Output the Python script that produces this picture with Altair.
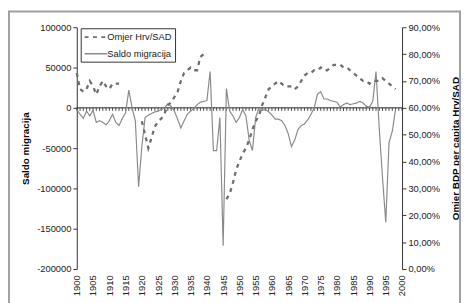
import altair as alt
import pandas as pd

# ---------------- data ----------------
years = list(range(1900, 1999))

saldo_migracija = [
    -2000, -8000, -13000, -4000, -10000, -3000, -18000, -16000, -18000, -21000,   # 1900-1909
    -16000, -8000, -18000, -22000, -13000, -6000, 22000, 0, -16000, -98000,      # 1910-1919
    -48000, -12000, -9000, -7000, -5000, -4000, -2000, 0, 5000, 2000,           # 1920-1929
    -4000, -14000, -25000, -16000, -8000, -4000, -1000, 4000, 7000, 8000,       # 1930-1939
    9000, 45000, -53000, -53000, -12000, -171000, 24000, -4000, -10000, -18000, # 1940-1949
    -12000, -2000, -10000, -40000, -53000, -12000, 0, -3000, -2000, -5000,      # 1950-1959
    -9000, -14000, -14000, -16000, -22000, -32000, -48000, -40000, -27000, -22000,  # 1960-1969
    -20000, -15000, -8000, 0, 17000, 20000, 11000, 11000, 9000, 8000,           # 1970-1979
    7000, 1000, 4000, 6000, 4000, 5000, 6000, 8000, 6000, 2000,                 # 1980-1989
    1000, 8000, 45000, -26000, -87000, -142000, -43000, -29000, -2000,          # 1990-1998
]

omjer_hrv_sad = [
    0.73, 0.67, 0.66, 0.67, 0.70, 0.68, 0.65, 0.68, 0.70, 0.68,   # 1900-1909
    0.67, 0.69, 0.69, 0.69, None, None, None, None, None, None,   # 1910-1919
    0.55, 0.50, 0.45, 0.49, 0.53, 0.55, 0.56, 0.58, 0.61, 0.62,   # 1920-1929
    0.64, 0.66, 0.70, 0.73, 0.74, 0.75, 0.74, 0.74, 0.79, 0.80,   # 1930-1939
    None, None, None, None, None, None, 0.26, 0.28, 0.32, 0.37,   # 1940-1949
    0.40, 0.43, 0.45, 0.48, 0.52, 0.55, 0.57, 0.61, 0.64, 0.67,   # 1950-1959
    0.68, 0.69, 0.70, 0.69, 0.68, 0.68, 0.68, 0.67, 0.68, 0.70,   # 1960-1969
    0.72, 0.73, 0.73, 0.74, 0.74, 0.75, 0.74, 0.74, 0.75, 0.76,   # 1970-1979
    0.76, 0.76, 0.75, 0.75, 0.74, 0.73, 0.72, 0.71, 0.70, 0.70,   # 1980-1989
    0.69, 0.70, 0.70, 0.70, 0.71, 0.70, 0.69, 0.68, 0.67,         # 1990-1998
]

series_names = ["Omjer Hrv/SAD", "Saldo migracija"]
y_left_ticks = [-200000, -150000, -100000, -50000, 0, 50000, 100000]
y_right_ticks = [0.0, 0.1, 0.2, 0.3, 0.4, 0.5, 0.6, 0.7, 0.8, 0.9]
x_label_years = list(range(1900, 2001, 5))
x_minor_years = list(range(1900, 2001))

# ---------------- tables ----------------
mig_df = pd.DataFrame({"year": years, "value": saldo_migracija,
                       "series": series_names[1]})
tick_df = pd.DataFrame({"year": x_minor_years})
zero_df = pd.DataFrame({"x0": [1900], "x1": [2000]})

rows = []
seg = 0
prev = None
for y, r in zip(years, omjer_hrv_sad):
    if r is None:
        prev = None
        continue
    if prev is None:
        seg += 1
    rows.append({"year": y, "ratio": r, "seg": seg, "series": series_names[0]})
    prev = r
ratio_df = pd.DataFrame(rows)

# ---------------- chart ----------------
W, H = 331, 246
FONT = "Liberation Sans"

xscale = alt.Scale(domain=[1900, 2000], nice=False, zero=False)
yscale_mig = alt.Scale(domain=[-200000, 100000], nice=False)
color_scale = alt.Scale(domain=series_names, range=["#6e6e6e", "#8a8a8a"])
dash_scale = alt.Scale(domain=series_names, range=[[4, 4.5], [1, 0]])

x_axis = alt.Axis(
    values=x_label_years, orient="bottom", labelAngle=270, domain=False,
    ticks=False, tickSize=0, labelPadding=6, format="d", grid=False,
    title=None, labelFontSize=9.5, labelFont=FONT, labelColor="#222222")

leg = alt.Legend(
    orient="none", legendX=4, legendY=1, title=None,
    symbolType="M-1,0H3.6", symbolSize=100, labelOffset=12,
    padding=3, strokeColor="#333333", fillColor="white",
    labelFontSize=9.5, labelFont=FONT, labelColor="#222222",
    rowPadding=6, symbolStrokeWidth=1.6,
)

frame = alt.Chart(pd.DataFrame({"k": [0]})).mark_rect(
    fillOpacity=0, stroke="#a0a0a0", strokeWidth=2
).encode(
    x=alt.value(-69), x2=alt.value(W + 59),
    y=alt.value(-16), y2=alt.value(H + 100),
)

mig_line = alt.Chart(mig_df).mark_line(strokeWidth=1.2).encode(
    x=alt.X("year:Q", scale=xscale, axis=x_axis),
    y=alt.Y("value:Q", scale=yscale_mig,
            axis=alt.Axis(
                values=y_left_ticks, orient="left", labelExpr="'' + datum.value",
                tickSize=4, labelPadding=2, grid=False,
                title="Saldo migracija", titleX=-52, titleY=H / 2,
                titleAngle=270, titleBaseline="middle", titleAlign="center",
                titleFontSize=10, titleFont=FONT, titleFontWeight="bold",
                labelFontSize=9.5, labelFont=FONT, labelColor="#222222",
                domainColor="#333333", tickColor="#333333")),
    color=alt.Color("series:N", scale=color_scale, legend=leg),
    strokeDash=alt.StrokeDash("series:N", scale=dash_scale, legend=leg),
)

# zero line (category axis crossing at 0) with yearly tick marks
zero_line = alt.Chart(zero_df).mark_rule(color="#222222", strokeWidth=1).encode(
    x=alt.X("x0:Q", scale=xscale, axis=x_axis), x2="x1:Q",
    y=alt.Y(datum=0, scale=yscale_mig),
)
zero_ticks = alt.Chart(tick_df).mark_rule(color="#222222", strokeWidth=0.8).encode(
    x=alt.X("year:Q", scale=xscale, axis=x_axis),
    y=alt.Y(datum=0, scale=yscale_mig), y2=alt.Y2(datum=-3800),
)

mig = alt.layer(zero_line, zero_ticks, mig_line)

rat = alt.Chart(ratio_df).mark_line(strokeWidth=2.3).encode(
    x=alt.X("year:Q", scale=xscale, axis=x_axis),
    y=alt.Y("ratio:Q", scale=alt.Scale(domain=[0, 0.9], nice=False, zero=True),
            axis=alt.Axis(
                values=y_right_ticks, orient="right",
                labelExpr="replace(format(datum.value, '.2%'), '.', ',')",
                tickSize=4, labelPadding=2, grid=False,
                title="Omjer BDP per capita Hrv/SAD", titleX=54, titleY=H / 2,
                titleAngle=270, titleBaseline="middle", titleAlign="center",
                titleFontSize=10, titleFont=FONT, titleFontWeight="bold",
                labelFontSize=9.5, labelFont=FONT, labelColor="#222222",
                domainColor="#333333", tickColor="#333333")),
    detail="seg:N",
    color=alt.Color("series:N", scale=color_scale, legend=leg),
    strokeDash=alt.StrokeDash("series:N", scale=dash_scale, legend=leg),
)

chart = alt.layer(frame, mig, rat).resolve_scale(
    y="independent"
).properties(
    width=W, height=H,
    autosize=alt.AutoSizeParams(type="none"),
    padding={"left": 70, "top": 17, "right": 60, "bottom": 33},
    background="white",
).configure_view(stroke=None)

chart.save("out.html", embed_options={"renderer": "svg", "actions": False})
